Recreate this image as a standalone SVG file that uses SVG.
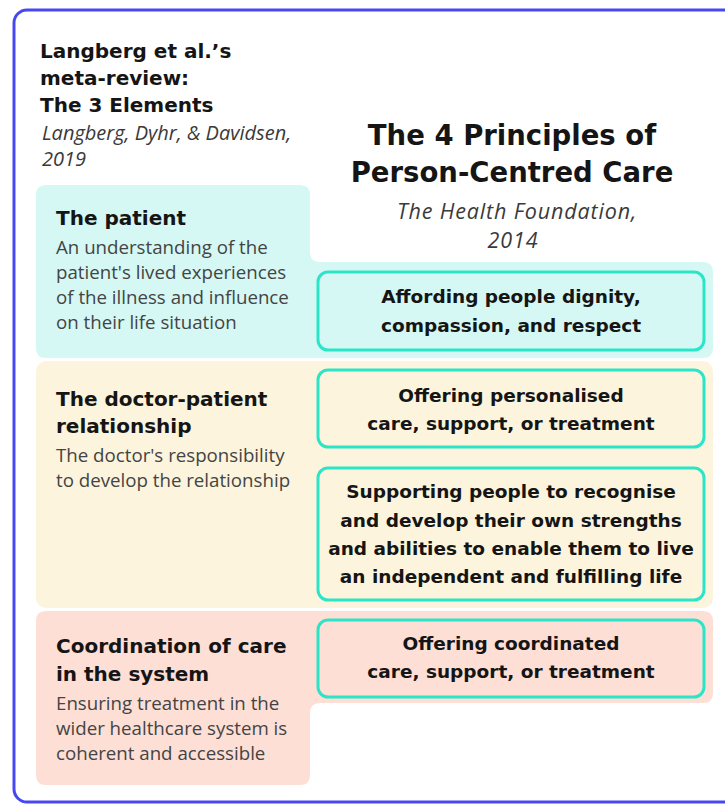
<svg xmlns="http://www.w3.org/2000/svg" width="725" height="804" viewBox="0 0 725 804">
  <style>
    .h { font-family: "DejaVu Sans", "Liberation Sans", sans-serif; font-weight: 700; fill: #151515; }
    .h1 { font-size: 27.5px; }
    .h2 { font-size: 20px; }
    .h3 { font-size: 18.5px; }
    .b { font-family: "Open Sans", "Liberation Sans", sans-serif; font-size: 18.7px; fill: #444; }
    .it { font-family: "Open Sans", "Liberation Sans", sans-serif; font-style: italic; font-size: 20px; fill: #3a3a3a; }
    .it2 { font-size: 21.5px; letter-spacing: 0.85px; }
    .c { text-anchor: middle; }
    .principle { fill: none; stroke: #2be5c8; stroke-width: 3; }
  </style>

  <rect x="0" y="0" width="725" height="804" fill="#ffffff"/>
  <!-- outer frame -->
  <rect x="14" y="10" width="800" height="792" rx="13" fill="#ffffff" stroke="#4848f2" stroke-width="3"/>

  <!-- element bands -->
  <g id="band-patient">
    <path d="M46 185 H300 Q310 185 310 195 V252 Q310 262 320 262 H703 Q713 262 713 272 V348 Q713 358 703 358 H46 Q36 358 36 348 V195 Q36 185 46 185 Z" fill="#d5f8f4"/>
  </g>
  <g id="band-relationship">
    <rect x="36" y="361" width="677" height="247" rx="10" fill="#fcf4dc"/>
  </g>
  <g id="band-coordination">
    <path d="M46 611 H703 Q713 611 713 621 V693 Q713 703 703 703 H320 Q310 703 310 713 V775 Q310 785 300 785 H46 Q36 785 36 775 V621 Q36 611 46 611 Z" fill="#fddfd6"/>
  </g>

  <!-- left heading -->
  <g id="left-heading">
    <text class="h h2" x="40" y="58">Langberg et al.’s</text>
    <text class="h h2" x="40" y="85">meta-review:</text>
    <text class="h h2" x="40" y="112">The 3 Elements</text>
    <text class="it" x="42" y="140">Langberg, Dyhr, &amp; Davidsen,</text>
    <text class="it" x="42" y="166">2019</text>
  </g>

  <!-- right heading -->
  <g id="right-heading">
    <text class="h h1 c" x="512" y="145">The 4 Principles of</text>
    <text class="h h1 c" x="512" y="182">Person-Centred Care</text>
    <text class="it it2 c" x="517" y="219">The Health Foundation,</text>
    <text class="it it2 c" x="513" y="248">2014</text>
  </g>

  <!-- elements -->
  <g id="element-patient">
    <text class="h h2" x="56" y="225">The patient</text>
    <text class="b" x="56" y="254">An understanding of the</text>
    <text class="b" x="56" y="279">patient's lived experiences</text>
    <text class="b" x="56" y="304">of the illness and influence</text>
    <text class="b" x="56" y="329">on their life situation</text>
  </g>
  <g id="element-relationship">
    <text class="h h2" x="56" y="406">The doctor-patient</text>
    <text class="h h2" x="56" y="433">relationship</text>
    <text class="b" x="56" y="462">The doctor's responsibility</text>
    <text class="b" x="56" y="487">to develop the relationship</text>
  </g>
  <g id="element-coordination">
    <text class="h h2" x="56" y="653">Coordination of care</text>
    <text class="h h2" x="56" y="681">in the system</text>
    <text class="b" x="56" y="710">Ensuring treatment in the</text>
    <text class="b" x="56" y="735">wider healthcare system is</text>
    <text class="b" x="56" y="760">coherent and accessible</text>
  </g>

  <!-- principles -->
  <g id="principle-dignity">
    <rect class="principle" x="318" y="272" width="386" height="78" rx="10"/>
    <text class="h h3 c" x="511" y="303">Affording people dignity,</text>
    <text class="h h3 c" x="511" y="332">compassion, and respect</text>
  </g>
  <g id="principle-personalised">
    <rect class="principle" x="318" y="370" width="386" height="77" rx="10"/>
    <text class="h h3 c" x="511" y="402">Offering personalised</text>
    <text class="h h3 c" x="511" y="430">care, support, or treatment</text>
  </g>
  <g id="principle-strengths">
    <rect class="principle" x="318" y="468" width="386" height="132" rx="10"/>
    <text class="h h3 c" x="511" y="498">Supporting people to recognise</text>
    <text class="h h3 c" x="511" y="527">and develop their own strengths</text>
    <text class="h h3 c" x="511" y="555">and abilities to enable them to live</text>
    <text class="h h3 c" x="511" y="583">an independent and fulfilling life</text>
  </g>
  <g id="principle-coordinated">
    <rect class="principle" x="318" y="620" width="386" height="77" rx="10"/>
    <text class="h h3 c" x="511" y="650">Offering coordinated</text>
    <text class="h h3 c" x="511" y="678">care, support, or treatment</text>
  </g>

  <g id="connectors"></g>
</svg>
